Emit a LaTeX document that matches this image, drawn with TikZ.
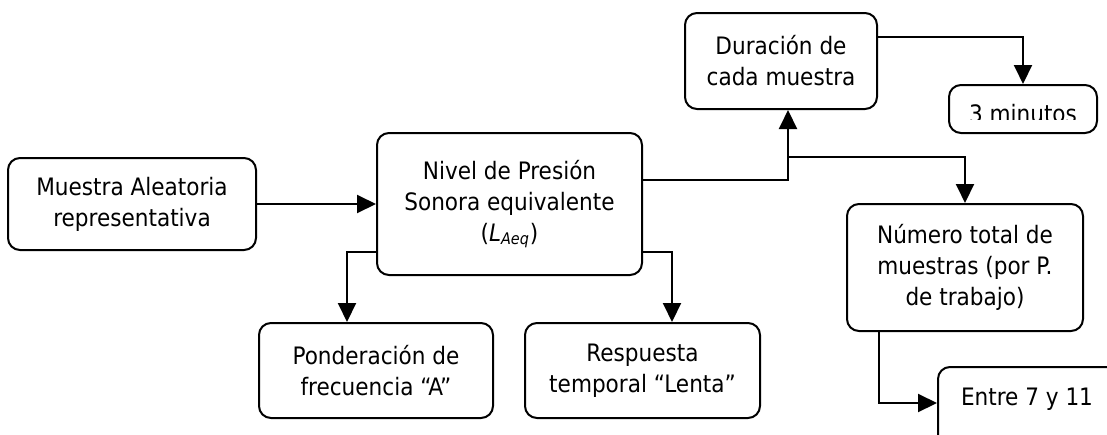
\documentclass[tikz,border=0pt]{standalone}
\usepackage{fontspec}
\setmainfont{DejaVu Sans Condensed}
\usetikzlibrary{arrows.meta,positioning}

\begin{document}
\begin{tikzpicture}
		[
			x=0.5pt, y=-0.5pt,
			font={\fontsize{12}{15.5}\selectfont},
			every text node part/.style={align=center},
			box/.style={
				draw,
				rectangle,
				rounded corners=6pt,
				line width=1pt,
				inner sep=0pt,
			},
			arch/.style={-{Triangle[length=9.5pt,width=9pt]}, line width=1pt},
		]
		\useasboundingbox (0,0) rectangle (1107,434);
		\node[box, minimum width=132.5pt, minimum height=71pt] 
		(nivel) at (509.5,204) 
		{Nivel de Presión\\Sonora equivalente\\(\textit{L}\textsubscript{\textit{Aeq}})};
		\node[box, minimum width=124pt, minimum height=46pt, left=59.5pt of nivel] 
		(muestra) 
		{Muestra Aleatoria\\representativa};
		\node[box, minimum width=96pt, minimum height=48pt] 
		(duracion) at (781,61) 
		{Duración de\\cada muestra};
		\node[box, minimum width=74pt, minimum height=24pt] 
		(minutos) at (1023,109) {};
		\node[box, minimum width=118pt, minimum height=63.5pt] 
		(numero) at (965,267.5) 
		{Número total de\\muestras (por P.\\de trabajo)};
		\node[box, minimum width=93.5pt, minimum height=44pt] 
		(entre) at (1031.5,411) {};
		\node[box, minimum width=117pt, minimum height=47.5pt] 
		(ponderacion) at (376,370.5) 
		{Ponderación de\\frecuencia “A”};
		\node[box, minimum width=117.5pt, minimum height=47.5pt, right=15pt of ponderacion] 
		(respuesta) 
		{Respuesta\\temporal “Lenta”};
		% texts that sit low in their boxes
		\begin{scope}
			\clip (minutos.north west) rectangle ([yshift=-17.5pt]minutos.north east);
			\node[anchor=base] (minutostxt) at ([yshift=-19pt]minutos.north) {3 minutos};
		\end{scope}
		\node[anchor=base] (entretxt) at (1027,405) {Entre 7 y 11};
		\coordinate (split) at (788,157);
		\draw[arch] (muestra) -- (nivel);
		\draw[arch] 
		([yshift=12pt]nivel.east) 
		-| ([xshift=3.5pt]duracion.south);
		\draw[arch] (split) -| (numero.north);
		\draw[arch] 
		([yshift=12pt]duracion.east) 
		-| (minutos.north);
		\draw[arch] 
		([yshift=-24pt]nivel.west) 
		-| ([xshift=-14.5pt]ponderacion.north);
		\draw[arch] 
		([yshift=-24pt]nivel.east) 
		-| ([xshift=14.75pt]respuesta.north);
		\draw[arch] 
		([xshift=-43pt]numero.south) 
		|- ([yshift=4pt]entre.west);
	\end{tikzpicture}
\end{document}
